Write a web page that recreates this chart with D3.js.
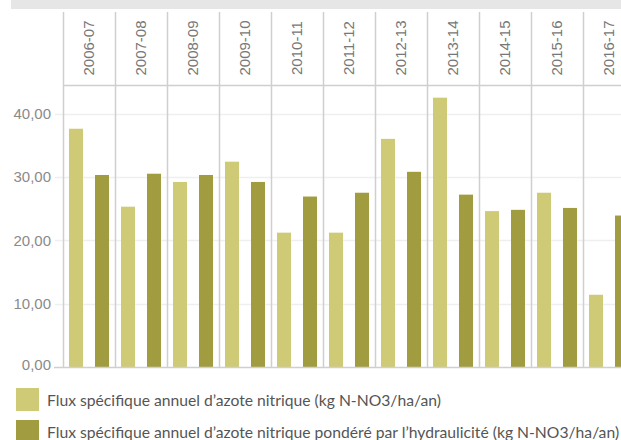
<!DOCTYPE html>
<html><head><meta charset="utf-8">
<script src="https://cdn.jsdelivr.net/npm/d3@7"></script>
<style>body{margin:0;background:#fff}svg{display:block}</style>
</head><body>
<script>
const years = ["2006-07","2007-08","2008-09","2009-10","2010-11","2011-12","2012-13","2013-14","2014-15","2015-16","2016-17"];
const fluxSpecifique = [37.6,25.3,29.2,32.4,21.2,21.2,36.0,42.5,24.6,27.5,11.4];
const fluxPondere = [30.3,30.5,30.3,29.2,26.9,27.5,30.8,27.2,24.8,25.1,23.9];
const yTicks = [0,10,20,30,40];
const seriesNames = ["Flux spécifique annuel d’azote nitrique (kg N-NO3/ha/an)","Flux spécifique annuel d’azote nitrique pondéré par l’hydraulicité (kg N-NO3/ha/an)"];
const colors = ["#cfca76","#a19c40"];

const W=621,H=440;
const svg=d3.select("body").append("svg").attr("width",W).attr("height",H);
const mLeft=63, panelW=52, mTop=85, mBottom=367;
svg.append("rect").attr("x",11).attr("y",0).attr("width",W-11).attr("height",9).attr("fill","#e6e6e6");

const x=d3.scaleBand().domain(years).range([mLeft,mLeft+panelW*years.length]);
const inner=d3.scaleBand().domain([0,1]).range([0,panelW]);
const y=d3.scaleLinear().domain([0,44.5]).range([mBottom,mTop]);

// grid
svg.append("g").selectAll("line").data(yTicks.slice(1)).join("line")
 .attr("x1",55).attr("x2",W).attr("y1",d=>Math.round(y(d))+0.5).attr("y2",d=>Math.round(y(d))+0.5)
 .attr("stroke","#efefef").attr("stroke-width",1.5);
// y axis labels
const fmt=d=>d3.format(".2f")(d).replace(".",",");
svg.append("g").selectAll("text").data(yTicks).join("text")
 .attr("x",51).attr("y",d=>y(d)+ (d===0?-2:0)).attr("dy","0.35em").attr("text-anchor","end")
 .attr("font-family","Liberation Sans, Arial, sans-serif").attr("font-size",15).attr("fill","#8a8a8a").text(fmt);

// bars
const data=years.map((yr,i)=>({yr,vals:[fluxSpecifique[i],fluxPondere[i]]}));
const g=svg.append("g").selectAll("g").data(data).join("g").attr("transform",d=>`translate(${x(d.yr)},0)`);
g.selectAll("rect").data(d=>d.vals.map((v,k)=>({v,k}))).join("rect")
 .attr("x",d=>inner(d.k)+(inner.bandwidth()-14)/2).attr("width",14)
 .attr("y",d=>y(d.v)).attr("height",d=>mBottom-y(d.v)).attr("fill",d=>colors[d.k]);

// panel separators
svg.append("g").selectAll("line").data(years.map(d=>x(d)).concat([x(years[years.length-1])+panelW])).join("line")
 .attr("x1",d=>d+0.5).attr("x2",d=>d+0.5).attr("y1",12).attr("y2",mBottom).attr("stroke","#cfcfcf").attr("stroke-width",1.5);
// header line and baseline
svg.append("line").attr("x1",mLeft).attr("x2",W).attr("y1",mTop+0.5).attr("y2",mTop+0.5).attr("stroke","#cfcfcf").attr("stroke-width",1.5);
svg.append("line").attr("x1",54).attr("x2",W).attr("y1",mBottom+0.5).attr("y2",mBottom+0.5).attr("stroke","#cfcfcf").attr("stroke-width",1.5);

// headers
svg.append("g").selectAll("text").data(years).join("text")
 .attr("transform",d=>`translate(${x(d)+panelW/2},48) rotate(-90)`)
 .attr("text-anchor","middle").attr("dy","0.35em")
 .attr("font-family","Liberation Sans, Arial, sans-serif").attr("font-size",15).attr("fill","#777").text(d=>d);

// legend
const lg=svg.append("g").selectAll("g").data(seriesNames).join("g").attr("transform",(d,i)=>`translate(16,${388+i*32})`);
lg.append("rect").attr("width",23).attr("height",23).attr("fill",(d,i)=>colors[i]);
lg.append("text").attr("x",31).attr("y",12.5).attr("dy","0.35em").attr("font-family","Lato, sans-serif").attr("font-size",15.7).attr("fill","#555").text(d=>d);
</script>
</body></html>
